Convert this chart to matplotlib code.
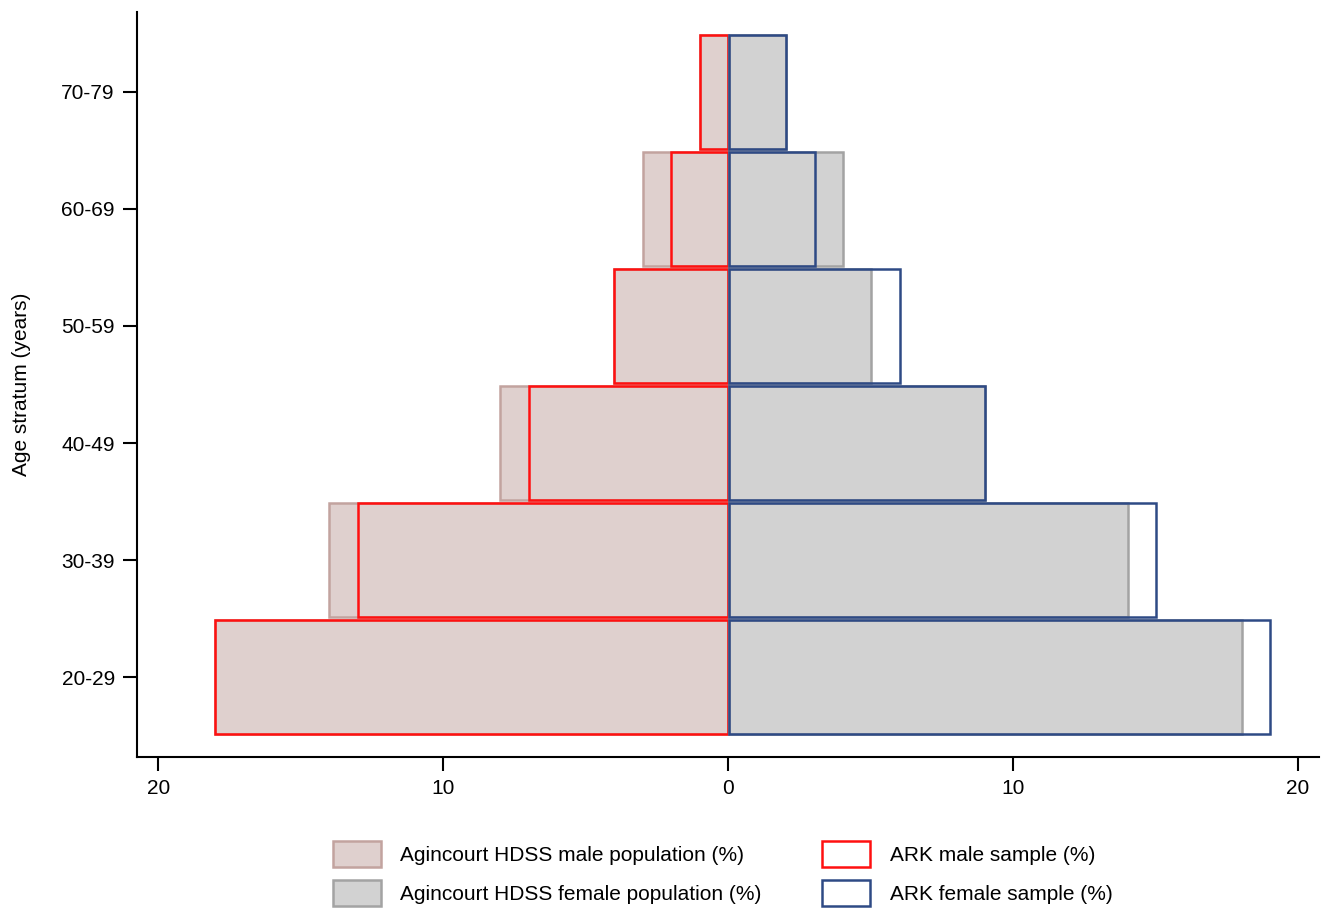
import matplotlib
matplotlib.use("Agg")
import matplotlib.pyplot as plt
from matplotlib.patches import Patch

plt.rcParams['font.family'] = ['Liberation Sans', 'DejaVu Sans']

age_groups = ["20-29", "30-39", "40-49", "50-59", "60-69", "70-79"]
hdss_male = [18, 14, 8, 4, 3, 1]
hdss_female = [18, 14, 9, 5, 4, 2]
ark_male = [18, 13, 7, 4, 2, 1]
ark_female = [19, 15, 9, 6, 3, 2]

fig = plt.figure(figsize=(13.26, 9.09), dpi=100)
ax = fig.add_axes([0.1033, 0.167, 0.8917, 0.82])

y = range(len(age_groups))
h = 0.98
ax.barh(y, [-v for v in hdss_male], height=h, color='#dfd0ce', edgecolor='#c2a39f', linewidth=1.8)
ax.barh(y, [-v for v in ark_male], height=h, color='none', edgecolor='#ff1010', linewidth=1.8)
ax.barh(y, hdss_female, left=0.03, height=h, color='#d2d2d2', edgecolor='#a3a3a3', linewidth=1.8)
ax.barh(y, ark_female, left=0.03, height=h, color='none', edgecolor='#2e4a85', linewidth=1.8)

ax.set_xlim(-20.75, 20.75)
ax.set_ylim(-0.684, 5.684)
ax.set_xticks([-20, -10, 0, 10, 20])
ax.set_xticklabels(["20", "10", "0", "10", "20"])
ax.set_yticks(list(y))
ax.set_yticklabels(age_groups)
ax.set_ylabel("Age stratum (years)", fontsize=15, labelpad=22)
ax.tick_params(labelsize=15, length=10, width=1.5, pad=6)
for s in ['top', 'right']:
    ax.spines[s].set_visible(False)
for s in ['left', 'bottom']:
    ax.spines[s].set_linewidth(1.5)

handles = [
    Patch(facecolor='#dfd0ce', edgecolor='#c2a39f', linewidth=1.8, label="Agincourt HDSS male population (%)"),
    Patch(facecolor='#d2d2d2', edgecolor='#a3a3a3', linewidth=1.8, label="Agincourt HDSS female population (%)"),
    Patch(facecolor='white', edgecolor='#ff1010', linewidth=1.8, label="ARK male sample (%)"),
    Patch(facecolor='white', edgecolor='#2e4a85', linewidth=1.8, label="ARK female sample (%)"),
]
fig.legend(handles=handles, ncol=2, frameon=False, fontsize=15,
           loc='center', bbox_to_anchor=(0.545, 0.039),
           handlelength=2.3, handleheight=1.5, handletextpad=0.95,
           columnspacing=2.9, labelspacing=0.65)

fig.savefig("out.png", dpi=100)
